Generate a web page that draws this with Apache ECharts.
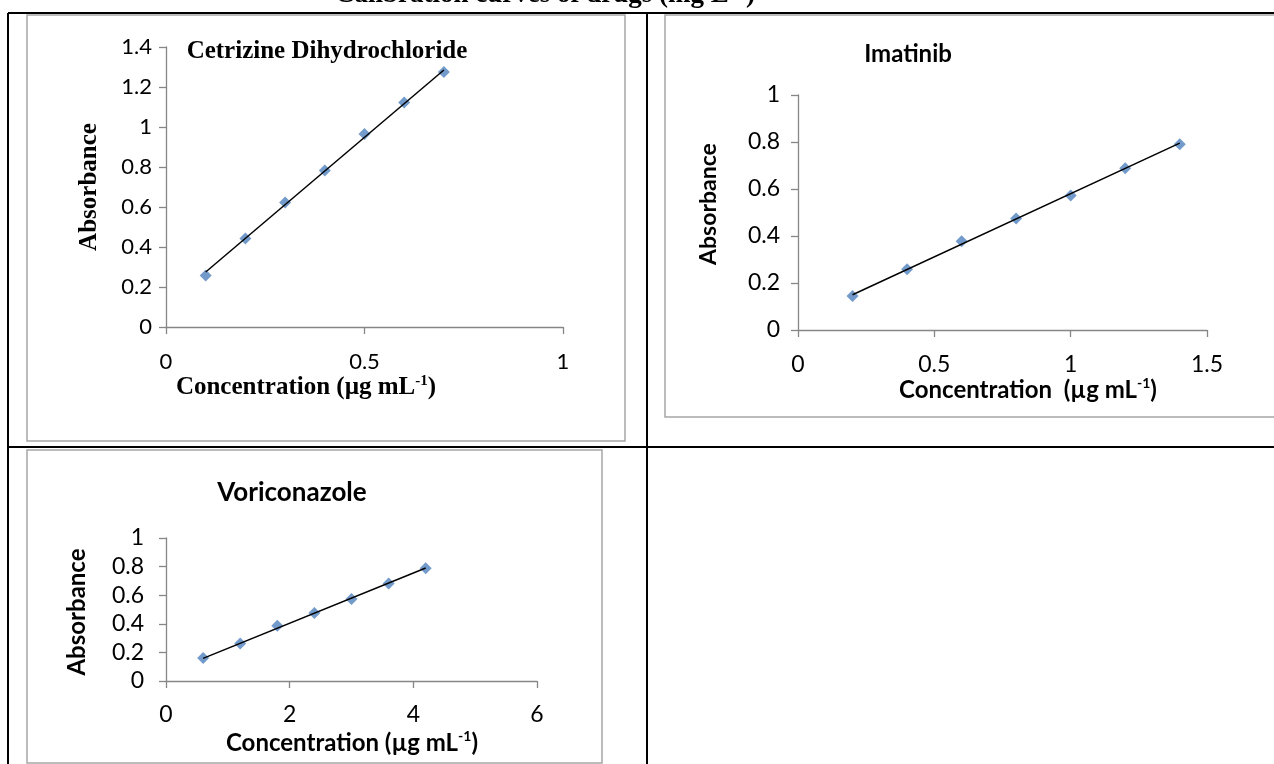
<!DOCTYPE html>
<html>
<head>
<meta charset="utf-8">
<title>Calibration curves</title>
<script src="https://cdn.jsdelivr.net/npm/echarts@6/dist/echarts.min.js"></script>
<style>
  html, body { margin: 0; padding: 0; background: #fff; }
  #main { width: 1274px; height: 764px; }
</style>
</head>
<body>
<div id="main"></div>
<script>
// Cetrizine Dihydrochloride
var cetConc = [0.1, 0.2, 0.3, 0.4, 0.5, 0.6, 0.7];
var cetAbs = [0.258, 0.442, 0.622, 0.782, 0.965, 1.122, 1.275];
var cetTrendX = [0.1, 0.7];
var cetTrendY = [0.275, 1.285];

// Imatinib
var imaConc = [0.2, 0.4, 0.6, 0.8, 1.0, 1.2, 1.4];
var imaAbs = [0.145, 0.258, 0.378, 0.475, 0.572, 0.688, 0.79];
var imaTrendX = [0.2, 1.4];
var imaTrendY = [0.15, 0.795];

// Voriconazole
var vorConc = [0.6, 1.2, 1.8, 2.4, 3.0, 3.6, 4.2];
var vorAbs = [0.16, 0.262, 0.386, 0.476, 0.574, 0.682, 0.788];
var vorTrendX = [0.6, 4.2];
var vorTrendY = [0.158, 0.79];

var SANS = 'Lato';
var SERIF = 'Liberation Serif';
var AXIS_GRAY = '#868686';
var MARK_BLUE = '#4f81bd';

function pairs(xs, ys) {
    return xs.map(function (x, i) { return [x, ys[i]]; });
}

function xAxisOf(idx, max, interval, fs, margin) {
    return {
        type: 'value', gridIndex: idx, min: 0, max: max, interval: interval,
        axisLine: { show: true, onZero: false, lineStyle: { color: AXIS_GRAY, width: 1.3 } },
        axisTick: { show: true, length: 7, lineStyle: { color: AXIS_GRAY, width: 1.3 } },
        axisLabel: { fontFamily: SANS, fontSize: fs, color: '#000', margin: margin },
        splitLine: { show: false }
    };
}

function yAxisOf(idx, max, interval, fs, margin) {
    return {
        type: 'value', gridIndex: idx, min: 0, max: max, interval: interval,
        axisLine: { show: true, lineStyle: { color: AXIS_GRAY, width: 1.3 } },
        axisTick: { show: true, length: 7, lineStyle: { color: AXIS_GRAY, width: 1.3 } },
        axisLabel: { fontFamily: SANS, fontSize: fs, color: '#000', margin: margin },
        splitLine: { show: false }
    };
}

function pointSeries(idx, xs, ys) {
    return {
        type: 'scatter', xAxisIndex: idx, yAxisIndex: idx,
        data: pairs(xs, ys), symbol: 'diamond', symbolSize: 12,
        itemStyle: { color: MARK_BLUE }, silent: true, z: 2
    };
}

function trendSeries(idx, xs, ys) {
    return {
        type: 'line', xAxisIndex: idx, yAxisIndex: idx,
        data: pairs(xs, ys), showSymbol: false, symbol: 'none',
        lineStyle: { color: '#000', width: 1.5 }, silent: true, z: 3
    };
}

function concLabel(x, y, family, fs, txt) {
    return {
        type: 'text', x: x, y: y, silent: true,
        style: {
            text: '{t|' + txt + '}{s|-1}{t|)}',
            align: 'center', verticalAlign: 'middle',
            rich: {
                t: { fontFamily: family, fontWeight: 'bold', fontSize: fs, lineHeight: fs + 4, fill: '#000' },
                s: { fontFamily: family, fontWeight: 'bold', fontSize: Math.round(fs * 0.6), lineHeight: Math.round(fs * 0.6), verticalAlign: 'top', fill: '#000' }
            }
        }
    };
}

function plainText(x, y, txt, family, fs, rot) {
    return {
        type: 'text', x: x, y: y, rotation: rot || 0, silent: true,
        style: {
            text: txt, fontFamily: family, fontWeight: 'bold', fontSize: fs,
            fill: '#000', align: 'center', verticalAlign: 'middle'
        }
    };
}

function line(x1, y1, x2, y2, color, w) {
    return {
        type: 'line', silent: true,
        shape: { x1: x1, y1: y1, x2: x2, y2: y2 },
        style: { stroke: color, lineWidth: w }
    };
}

function box(x, y, w, h) {
    return {
        type: 'rect', silent: true, z: -1,
        shape: { x: x, y: y, width: w, height: h },
        style: { fill: 'none', stroke: '#a6a6a6', lineWidth: 1.5 }
    };
}

var chart = echarts.init(document.getElementById('main'));

var option = {
    animation: false,
    backgroundColor: '#fff',
    grid: [
        { left: 166, top: 47, width: 397, height: 280 },
        { left: 798, top: 95, width: 409, height: 235 },
        { left: 166, top: 538, width: 371, height: 143 }
    ],
    xAxis: [
        xAxisOf(0, 1, 0.5, 22, 24),
        xAxisOf(1, 1.5, 0.5, 23, 23),
        xAxisOf(2, 6, 2, 23, 22)
    ],
    yAxis: [
        yAxisOf(0, 1.4, 0.2, 22, 14),
        yAxisOf(1, 1, 0.2, 23, 18),
        yAxisOf(2, 1, 0.2, 23, 22)
    ],
    series: [
        pointSeries(0, cetConc, cetAbs),
        trendSeries(0, cetTrendX, cetTrendY),
        pointSeries(1, imaConc, imaAbs),
        trendSeries(1, imaTrendX, imaTrendY),
        pointSeries(2, vorConc, vorAbs),
        trendSeries(2, vorTrendX, vorTrendY)
    ],
    graphic: [
        // table frame
        line(8, 13, 1274, 13, '#000', 2),
        line(8, 13, 8, 764, '#000', 2),
        line(647, 13, 647, 764, '#000', 2),
        line(8, 447, 1274, 447, '#000', 2),
        // chart frames
        box(27, 15, 598, 426),
        box(665, 15, 620, 402),
        box(27, 450, 575, 313),
        // page heading, mostly cut off above the image
        {
            type: 'text', x: 545, y: 9, silent: true,
            style: {
                text: 'Calibration curves of drugs (mg L⁻¹)', fontFamily: SERIF, fontWeight: 'bold',
                fontSize: 27, fill: '#000', align: 'center', verticalAlign: 'bottom'
            }
        },
        // chart titles
        plainText(327, 52, 'Cetrizine Dihydrochloride', SERIF, 25),
        plainText(908, 54, 'Imatinib', SANS, 24),
        plainText(292, 493, 'Voriconazole', SANS, 26),
        // y axis names
        plainText(90, 187, 'Absorbance', SERIF, 25, Math.PI / 2),
        plainText(709, 204, 'Absorbance', SANS, 23, Math.PI / 2),
        plainText(77, 612, 'Absorbance', SANS, 24, Math.PI / 2),
        // x axis names
        concLabel(306, 388, SERIF, 25, 'Concentration (µg mL'),
        concLabel(1028, 390, SANS, 24, 'Concentration  (µg mL'),
        concLabel(352, 743, SANS, 24, 'Concentration (µg mL')
    ]
};

chart.setOption(option);
</script>
</body>
</html>
